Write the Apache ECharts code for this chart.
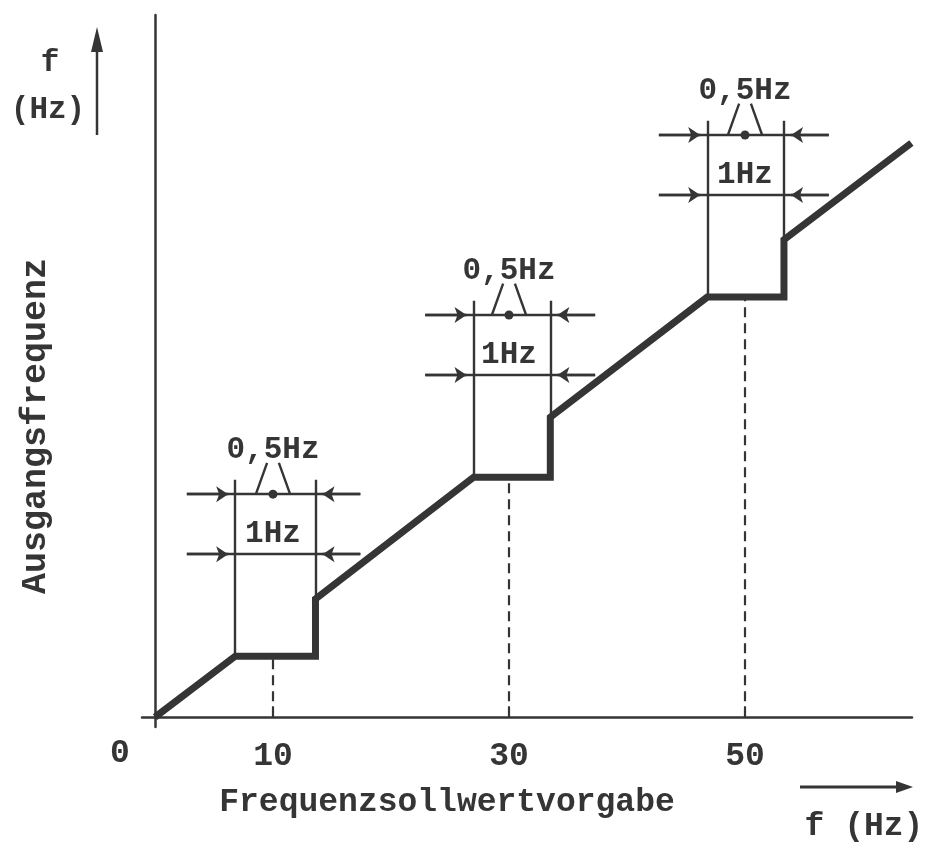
<!DOCTYPE html>
<html>
<head>
<meta charset="utf-8">
<script src="https://cdn.jsdelivr.net/npm/echarts@6/dist/echarts.min.js"></script>
<style>
  html, body { margin: 0; background: #fff; }
  #chart { width: 925px; height: 842px; }
</style>
</head>
<body>
<div id="chart"></div>
<script>
  // Kennlinie: Sollwert -> Ausgangsfrequenz (mit Frequenzausblendung)
  const inputHz  = [0, 6.8, 13.6, 13.6, 27.0, 33.5, 33.5, 46.8, 53.3, 53.3, 64.1];
  const outputHz = [0, 6.8, 6.8, 13.2, 26.8, 26.8, 33.5, 46.9, 46.9, 53.3, 64.1];

  // ausgeblendete Bänder
  const skipCenter = [10, 30, 50];
  const skipFrom   = [6.8, 27.0, 46.8];
  const skipTo     = [13.6, 33.5, 53.3];
  const holdLevel  = [6.8, 26.8, 46.9];

  const xTicks = [10, 30, 50];
  const bandText = ['0,5Hz', '1Hz'];

  const INK = '#353535';
  const FONT = '"Liberation Mono", monospace';

  // Bemaßung pro Band zusammenbauen
  let thin = [], arrows = [], dashed = [], dots = [], texts = [];
  skipCenter.forEach(function (c, i) {
    const a = skipFrom[i], b = skipTo[i], h = holdLevel[i];
    const yUp = h + 18.1, yLo = h + 11.4, yTop = h + 19.7, yV = h + 21.6;
    const l = a - 4.1, r = b + 3.8;
    thin.push(
      [[l, yUp], [r, yUp]],
      [[l, yLo], [r, yLo]],
      [[a, h], [a, yTop]],
      [[b, h], [b, yTop]],
      [[c - 1.45, yUp], [c - 0.5, yV]],
      [[c + 1.45, yUp], [c + 0.5, yV]]
    );
    [yUp, yLo].forEach(function (y) {
      arrows.push([[l, y], [a - 0.6, y]], [[r, y], [b + 0.6, y]]);
    });
    dashed.push([[c, 0], [c, h]]);
    dots.push([c, yUp]);
    texts.push({ value: [c, h + 23], name: bandText[0] });
    texts.push({ value: [c, h + 13.6], name: bandText[1] });
  });

  const curve = inputHz.map(function (x, i) { return [x, outputHz[i]]; });

  const myChart = echarts.init(document.getElementById('chart'));
  myChart.setOption({
    animation: false,
    backgroundColor: '#fff',
    grid: { left: 142, right: 13, top: 15, bottom: 115 },
    xAxis: {
      type: 'value',
      min: -1.1,
      max: 64.15,
      axisLine: { onZero: true, lineStyle: { color: INK, width: 2.5 } },
      axisTick: { show: true, inside: true, length: 11, customValues: xTicks,
                  lineStyle: { color: INK, width: 2 } },
      axisLabel: { customValues: xTicks, margin: 13, color: INK, fontSize: 33,
                   fontWeight: 'bold', fontFamily: FONT },
      splitLine: { show: false }
    },
    yAxis: {
      type: 'value',
      min: -1.1,
      max: 78.4,
      axisLine: { show: true, onZero: true, lineStyle: { color: INK, width: 2.5 } },
      axisTick: { show: false },
      axisLabel: { show: false },
      splitLine: { show: false }
    },
    series: [
      {
        type: 'lines', coordinateSystem: 'cartesian2d', silent: true,
        data: thin.map(function (c) { return { coords: c }; }),
        symbol: 'none',
        lineStyle: { color: INK, width: 2.4, opacity: 1 }
      },
      {
        type: 'lines', coordinateSystem: 'cartesian2d', silent: true,
        data: arrows.map(function (c) { return { coords: c }; }),
        symbol: ['none', 'arrow'], symbolSize: 12,
        lineStyle: { color: INK, width: 2.4, opacity: 1 }
      },
      {
        type: 'lines', coordinateSystem: 'cartesian2d', silent: true,
        data: dashed.map(function (c) { return { coords: c }; }),
        symbol: 'none',
        lineStyle: { color: INK, width: 2.2, type: [10, 6], opacity: 1 }
      },
      {
        type: 'line', data: curve, symbol: 'none', z: 5,
        lineStyle: { color: INK, width: 7, join: 'miter', cap: 'butt' }
      },
      {
        type: 'scatter', data: dots, symbolSize: 9, z: 6,
        itemStyle: { color: INK, opacity: 1 }
      },
      {
        type: 'scatter', data: texts, symbolSize: 0, z: 6,
        itemStyle: { opacity: 1 },
        label: {
          show: true, position: 'inside', formatter: '{b}',
          color: INK, fontSize: 31, fontWeight: 'bold', fontFamily: FONT
        }
      }
    ],
    graphic: [
      { type: 'text', x: 120, y: 754,
        style: { text: '0', font: 'bold 33px ' + FONT, fill: INK, align: 'center', verticalAlign: 'middle' } },
      { type: 'text', x: 447, y: 803,
        style: { text: 'Frequenzsollwertvorgabe', font: 'bold 33px ' + FONT, fill: INK, align: 'center', verticalAlign: 'middle' } },
      { type: 'line', shape: { x1: 800, y1: 787, x2: 900, y2: 787 }, style: { stroke: INK, lineWidth: 3 } },
      { type: 'polygon', shape: { points: [[913, 787], [896, 781], [896, 793]] }, style: { fill: INK } },
      { type: 'text', x: 864, y: 827,
        style: { text: 'f (Hz)', font: 'bold 33px ' + FONT, fill: INK, align: 'center', verticalAlign: 'middle' } },
      { type: 'line', shape: { x1: 97, y1: 135, x2: 97, y2: 45 }, style: { stroke: INK, lineWidth: 2.5 } },
      { type: 'polygon', shape: { points: [[97, 27], [91, 52], [103, 52]] }, style: { fill: INK } },
      { type: 'text', x: 50, y: 63,
        style: { text: 'f', font: 'bold 31px ' + FONT, fill: INK, align: 'center', verticalAlign: 'middle' } },
      { type: 'text', x: 48, y: 110,
        style: { text: '(Hz)', font: 'bold 31px ' + FONT, fill: INK, align: 'center', verticalAlign: 'middle' } },
      { type: 'text', x: 36, y: 426, rotation: Math.PI / 2,
        style: { text: 'Ausgangsfrequenz', font: 'bold 35px ' + FONT, fill: INK, align: 'center', verticalAlign: 'middle' } }
    ]
  });
</script>
</body>
</html>
